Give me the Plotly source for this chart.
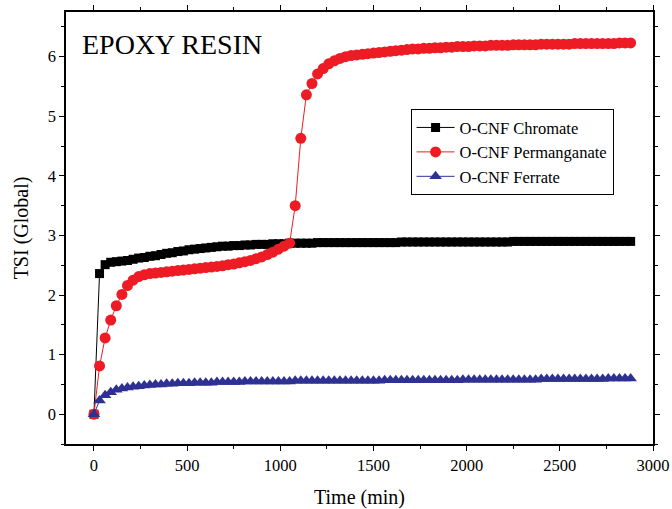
import plotly.graph_objects as go

time_min = [
    0, 30, 60, 90, 120, 150, 180, 210, 240, 270,
    300, 330, 360, 390, 420, 450, 480, 510, 540, 570,
    600, 630, 660, 690, 720, 750, 780, 810, 840, 870,
    900, 930, 960, 990, 1020, 1050, 1080, 1110, 1140, 1170,
    1200, 1230, 1260, 1290, 1320, 1350, 1380, 1410, 1440, 1470,
    1500, 1530, 1560, 1590, 1620, 1650, 1680, 1710, 1740, 1770,
    1800, 1830, 1860, 1890, 1920, 1950, 1980, 2010, 2040, 2070,
    2100, 2130, 2160, 2190, 2220, 2250, 2280, 2310, 2340, 2370,
    2400, 2430, 2460, 2490, 2520, 2550, 2580, 2610, 2640, 2670,
    2700, 2730, 2760, 2790, 2820, 2850, 2880,
]

chromate = [
    0, 2.36, 2.51, 2.55, 2.56, 2.57, 2.58, 2.60, 2.62, 2.63,
    2.65, 2.66, 2.68, 2.70, 2.71, 2.73, 2.74, 2.76, 2.77, 2.78,
    2.79, 2.80, 2.81, 2.82, 2.82, 2.83, 2.83, 2.84, 2.84, 2.85,
    2.85, 2.85, 2.86, 2.86, 2.86, 2.87, 2.87, 2.87, 2.87, 2.87,
    2.88, 2.88, 2.88, 2.88, 2.88, 2.88, 2.88, 2.88, 2.88, 2.88,
    2.88, 2.88, 2.88, 2.88, 2.88, 2.89, 2.89, 2.89, 2.89, 2.89,
    2.89, 2.89, 2.89, 2.89, 2.89, 2.89, 2.89, 2.89, 2.89, 2.89,
    2.89, 2.89, 2.89, 2.89, 2.89, 2.90, 2.90, 2.90, 2.90, 2.90,
    2.90, 2.90, 2.90, 2.90, 2.90, 2.90, 2.90, 2.90, 2.90, 2.90,
    2.90, 2.90, 2.90, 2.90, 2.90, 2.90, 2.90,
]

permanganate = [
    0, 0.81, 1.28, 1.58, 1.82, 2.01, 2.16, 2.25, 2.31, 2.34,
    2.36, 2.37, 2.38, 2.39, 2.40, 2.41, 2.42, 2.43, 2.44, 2.45,
    2.46, 2.47, 2.48, 2.49, 2.51, 2.52, 2.54, 2.56, 2.58, 2.61,
    2.64, 2.68, 2.72, 2.77, 2.82, 2.87, 3.50, 4.63, 5.36, 5.55,
    5.71, 5.80, 5.88, 5.93, 5.97, 6.00, 6.02, 6.03, 6.04, 6.05,
    6.06, 6.07, 6.08, 6.09, 6.10, 6.11, 6.12, 6.13, 6.13, 6.14,
    6.14, 6.15, 6.15, 6.16, 6.16, 6.17, 6.17, 6.17, 6.18, 6.18,
    6.18, 6.19, 6.19, 6.19, 6.19, 6.20, 6.20, 6.20, 6.20, 6.20,
    6.21, 6.21, 6.21, 6.21, 6.21, 6.21, 6.22, 6.22, 6.22, 6.22,
    6.22, 6.22, 6.22, 6.22, 6.23, 6.23, 6.23,
]

ferrate = [
    0, 0.23, 0.32, 0.37, 0.41, 0.43, 0.45, 0.46, 0.47, 0.48,
    0.49, 0.50, 0.50, 0.51, 0.51, 0.52, 0.52, 0.52, 0.53, 0.53,
    0.53, 0.53, 0.54, 0.54, 0.54, 0.54, 0.54, 0.55, 0.55, 0.55,
    0.55, 0.55, 0.55, 0.55, 0.55, 0.55, 0.56, 0.56, 0.56, 0.56,
    0.56, 0.56, 0.56, 0.56, 0.56, 0.56, 0.56, 0.56, 0.56, 0.56,
    0.56, 0.56, 0.57, 0.57, 0.57, 0.57, 0.57, 0.57, 0.57, 0.57,
    0.57, 0.57, 0.57, 0.57, 0.57, 0.57, 0.58, 0.58, 0.58, 0.58,
    0.58, 0.58, 0.58, 0.58, 0.58, 0.58, 0.58, 0.58, 0.58, 0.58,
    0.59, 0.59, 0.59, 0.59, 0.59, 0.59, 0.59, 0.59, 0.59, 0.59,
    0.59, 0.59, 0.60, 0.60, 0.60, 0.60, 0.60,
]

series_names = ["O-CNF Chromate", "O-CNF Permanganate", "O-CNF Ferrate"]
x_ticks = [0, 500, 1000, 1500, 2000, 2500, 3000]
y_ticks = [0, 1, 2, 3, 4, 5, 6]

FONT = "Liberation Serif, Times New Roman, serif"

fig = go.Figure()
fig.add_trace(go.Scatter(
    x=time_min, y=chromate, name=series_names[0], mode="lines+markers",
    line=dict(color="#000000", width=1),
    marker=dict(symbol="square", size=9, color="#000000"),
))
fig.add_trace(go.Scatter(
    x=time_min, y=permanganate, name=series_names[1], mode="lines+markers",
    line=dict(color="#ED1C24", width=1),
    marker=dict(symbol="circle", size=11, color="#ED1C24"),
))
fig.add_trace(go.Scatter(
    x=time_min, y=ferrate, name=series_names[2], mode="lines+markers",
    line=dict(color="#2E3192", width=1),
    marker=dict(symbol="triangle-up", size=11, color="#2E3192"),
))

fig.update_layout(
    width=672, height=509,
    margin=dict(l=66, r=19, t=12, b=65, autoexpand=False),
    paper_bgcolor="white", plot_bgcolor="white",
    font=dict(family=FONT, size=16, color="black"),
    showlegend=True,
    legend=dict(
        x=0.587, y=0.775, xanchor="left", yanchor="top",
        bgcolor="white", bordercolor="black", borderwidth=1,
        font=dict(family=FONT, size=16.5, color="black"),
        tracegroupgap=0, itemwidth=38,
    ),
    annotations=[dict(
        text="EPOXY RESIN", xref="paper", yref="paper",
        x=0.024, y=0.966, xanchor="left", yanchor="top", showarrow=False,
        font=dict(family=FONT, size=28, color="black"),
    )],
)

fig.update_xaxes(
    range=[-150, 3000], tickvals=x_ticks, automargin=False,
    ticks="outside", ticklen=5, tickwidth=1, tickcolor="black",
    minor=dict(dtick=250, tick0=0, ticks="outside", ticklen=3, tickcolor="black", showgrid=False),
    showline=True, linecolor="black", linewidth=1.5, mirror="allticks",
    showgrid=False, zeroline=False,
    title=dict(text="Time (min)", font=dict(family=FONT, size=20), standoff=18),
    tickfont=dict(family=FONT, size=16.5),
)
fig.update_yaxes(
    range=[-0.5, 6.75], tickvals=y_ticks, automargin=False,
    ticks="outside", ticklen=5, tickwidth=1, tickcolor="black",
    minor=dict(dtick=0.5, tick0=0, ticks="outside", ticklen=3, tickcolor="black", showgrid=False),
    showline=True, linecolor="black", linewidth=1.5, mirror="allticks",
    showgrid=False, zeroline=False,
    title=dict(text="TSI (Global)", font=dict(family=FONT, size=20), standoff=14),
    tickfont=dict(family=FONT, size=16.5),
)

fig.write_html("out.html", config={"displayModeBar": False},
               post_script="document.body.style.margin='0';")
